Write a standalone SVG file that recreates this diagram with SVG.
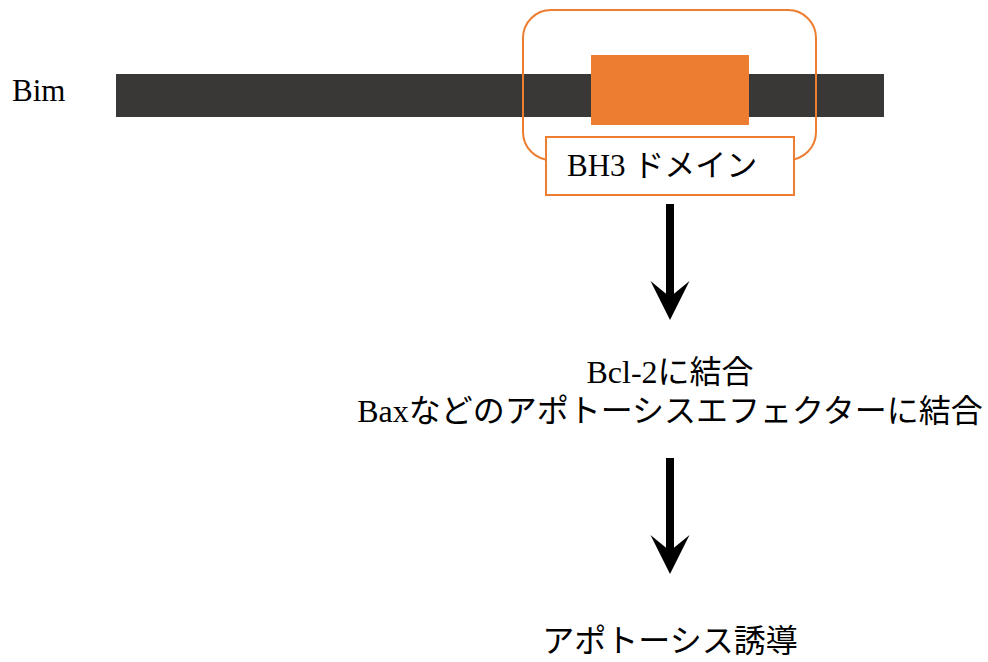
<svg xmlns="http://www.w3.org/2000/svg" width="988" height="662" viewBox="0 0 988 662">
<style>
.t{font-family:"Liberation Serif","Noto Sans CJK JP",serif;fill:#000}
.orange{fill:#ED7D31}
.outline{fill:none;stroke:#ED7D31;stroke-width:2}
.shaft{stroke:#000;stroke-width:8;fill:none}
</style>
<defs>
<marker id="head" markerUnits="userSpaceOnUse" viewBox="0 0 40 40" markerWidth="40" markerHeight="40" refX="24" refY="20" orient="auto">
<path d="M0,0.5 L39,20 L0,39.5 L16,20 Z" fill="#000"/>
</marker>
</defs>
<rect width="988" height="662" fill="#fff"/>
<g id="bim">
<text class="t" x="12" y="101" font-size="31">Bim</text>
<rect x="116" y="74" width="768" height="43" fill="#3A3836"/>
</g>
<g id="bh3-domain">
<rect class="orange" x="591" y="55" width="158" height="70"/>
<rect class="outline" x="523" y="10" width="293" height="150" rx="28" ry="28"/>
</g>
<g id="bh3-label">
<rect x="546" y="137" width="248" height="58" fill="#fff" stroke="#ED7D31" stroke-width="2"/>
<text class="t" x="567" y="176" font-size="31">BH3 ドメイン</text>
</g>
<g id="binding">
<text class="t" x="670" y="383" font-size="32" text-anchor="middle">Bcl-2に結合</text>
<text class="t" x="670" y="422" font-size="32" text-anchor="middle">Baxなどのアポトーシスエフェクターに結合</text>
</g>
<g id="apoptosis">
<text class="t" x="670" y="652" font-size="32" text-anchor="middle">アポトーシス誘導</text>
</g>
<g id="connectors">
<line class="shaft" x1="670" y1="204" x2="670" y2="305" marker-end="url(#head)"/>
<line class="shaft" x1="670" y1="458" x2="670" y2="559" marker-end="url(#head)"/>
</g>
</svg>
